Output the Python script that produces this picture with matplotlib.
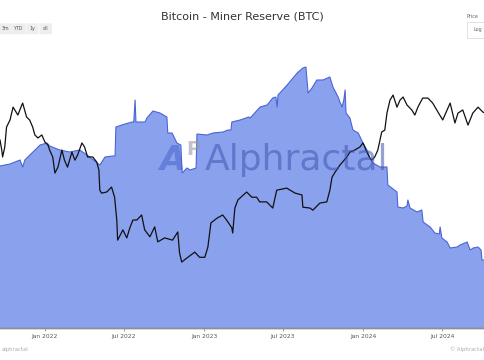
import matplotlib
matplotlib.use("Agg")
import matplotlib.pyplot as plt
import pandas as pd
from matplotlib.patches import FancyBboxPatch

# Miner reserve (thousand BTC)
reserve_dates = [
    "2021-09-20", "2021-10-13", "2021-11-05", "2021-11-11", "2021-11-16", "2021-12-21",
    "2022-01-06", "2022-01-12", "2022-02-04", "2022-02-27", "2022-03-22", "2022-04-14",
    "2022-05-07", "2022-05-19", "2022-06-06", "2022-06-11", "2022-06-13", "2022-07-04",
    "2022-07-20", "2022-07-24", "2022-07-27", "2022-07-29", "2022-08-19", "2022-08-23",
    "2022-09-06", "2022-09-22", "2022-10-08", "2022-10-10", "2022-10-20", "2022-10-31",
    "2022-11-09", "2022-11-12", "2022-11-23", "2022-11-30", "2022-12-14", "2022-12-16",
    "2023-01-08", "2023-01-22", "2023-02-14", "2023-02-25", "2023-03-04", "2023-03-06",
    "2023-03-25", "2023-04-14", "2023-04-17", "2023-05-10", "2023-05-26", "2023-06-08",
    "2023-06-15", "2023-06-18", "2023-06-20", "2023-07-11", "2023-08-03", "2023-08-16",
    "2023-08-23", "2023-08-28", "2023-09-06", "2023-09-17", "2023-10-01", "2023-10-17",
    "2023-10-24", "2023-11-05", "2023-11-09", "2023-11-14", "2023-11-18", "2023-11-21",
    "2023-11-23", "2023-12-02", "2023-12-09", "2023-12-21", "2024-01-01", "2024-01-10",
    "2024-01-17", "2024-01-24", "2024-02-09", "2024-02-25", "2024-02-27", "2024-03-19",
    "2024-03-21", "2024-04-02", "2024-04-11", "2024-04-13", "2024-04-18", "2024-05-04",
    "2024-05-15", "2024-05-18", "2024-06-03", "2024-06-14", "2024-06-24", "2024-06-26",
    "2024-06-30", "2024-07-12", "2024-07-19", "2024-08-04", "2024-08-11", "2024-08-27",
    "2024-09-03", "2024-09-10", "2024-09-21", "2024-09-28", "2024-09-30", "2024-10-07",
]
reserve_values = [
    1881, 1882, 1884, 1880.5, 1884, 1891.5,
    1892.5, 1891, 1889, 1888, 1889, 1885.5,
    1881.5, 1885.5, 1886, 1886, 1900.5, 1902,
    1903, 1903, 1914, 1903, 1903, 1905,
    1908.5, 1907.5, 1905.5, 1897.5, 1897.5, 1892.5,
    1891.5, 1877.5, 1880, 1879, 1880, 1897,
    1896.5, 1897.5, 1898, 1899, 1899, 1903,
    1904, 1905.5, 1905, 1910.5, 1911.5, 1915,
    1915.5, 1910.5, 1916.5, 1921.5, 1927.5, 1930,
    1930.5, 1917.5, 1920, 1924, 1924, 1925.5,
    1920.5, 1915.5, 1913, 1910.5, 1914, 1919,
    1907.5, 1905, 1899, 1897.5, 1892.5, 1889,
    1885, 1882.5, 1880.5, 1880.5, 1871.5, 1868,
    1860.5, 1860, 1861, 1864, 1860, 1858,
    1859, 1853, 1850.5, 1847.5, 1847, 1850.5,
    1845, 1843, 1840, 1840.5, 1841.5, 1843,
    1839, 1840, 1840.5, 1839, 1834, 1834,
]

# BTC price (thousand USD, log scale)
price_dates = [
    "2021-09-20", "2021-09-24", "2021-09-26", "2021-10-01", "2021-10-05", "2021-10-13",
    "2021-10-20", "2021-10-24", "2021-10-31", "2021-11-09", "2021-11-11", "2021-11-20",
    "2021-11-27", "2021-12-04", "2021-12-09", "2021-12-16", "2021-12-25", "2022-01-01",
    "2022-01-08", "2022-01-12", "2022-01-19", "2022-01-24", "2022-01-31", "2022-02-09",
    "2022-02-15", "2022-02-22", "2022-03-04", "2022-03-11", "2022-03-17", "2022-03-27",
    "2022-04-02", "2022-04-09", "2022-04-21", "2022-04-30", "2022-05-05", "2022-05-07",
    "2022-05-11", "2022-05-23", "2022-06-03", "2022-06-10", "2022-06-15", "2022-06-17",
    "2022-06-29", "2022-07-08", "2022-07-15", "2022-07-22", "2022-07-31", "2022-08-11",
    "2022-08-18", "2022-08-30", "2022-09-10", "2022-09-17", "2022-10-03", "2022-10-21",
    "2022-11-02", "2022-11-06", "2022-11-11", "2022-11-23", "2022-12-11", "2022-12-22",
    "2023-01-03", "2023-01-10", "2023-01-17", "2023-01-31", "2023-02-13", "2023-02-22",
    "2023-03-06", "2023-03-08", "2023-03-13", "2023-03-20", "2023-04-09", "2023-04-21",
    "2023-05-02", "2023-05-09", "2023-05-25", "2023-06-08", "2023-06-17", "2023-07-10",
    "2023-07-29", "2023-08-14", "2023-08-16", "2023-09-01", "2023-09-08", "2023-09-24",
    "2023-10-10", "2023-10-17", "2023-10-22", "2023-10-29", "2023-11-09", "2023-11-25",
    "2023-12-02", "2023-12-13", "2023-12-25", "2024-01-01", "2024-01-10", "2024-01-17",
    "2024-01-21", "2024-01-28", "2024-02-04", "2024-02-13", "2024-02-20", "2024-02-25",
    "2024-03-03", "2024-03-10", "2024-03-19", "2024-03-26", "2024-04-02", "2024-04-11",
    "2024-04-22", "2024-04-29", "2024-05-06", "2024-05-17", "2024-05-29", "2024-06-09",
    "2024-06-21", "2024-07-02", "2024-07-12", "2024-07-19", "2024-07-30", "2024-08-06",
    "2024-08-17", "2024-08-29", "2024-09-09", "2024-09-21", "2024-10-02", "2024-10-07",
]
price_values = [
    48.2, 43.9, 41.2, 45.2, 54.3, 58.0,
    65.3, 63.6, 60.7, 66.6, 67.8, 59.6,
    58.0, 54.3, 50.5, 49.1, 50.5, 47.3,
    46.0, 43.9, 41.2, 35.5, 37.5, 43.9,
    40.0, 37.5, 43.1, 40.0, 41.9, 46.9,
    45.2, 41.2, 41.2, 39.3, 36.5, 30.3,
    29.5, 29.8, 31.2, 28.4, 23.0, 19.1,
    21.0, 19.5, 21.4, 23.0, 23.0, 24.1,
    21.0, 19.7, 21.6, 18.8, 19.5, 19.1,
    20.6, 17.0, 15.6, 16.2, 17.1, 16.3,
    16.3, 17.9, 22.4, 23.4, 24.1, 23.0,
    21.4, 20.4, 25.7, 27.7, 29.8, 28.4,
    28.4, 27.2, 27.2, 25.7, 30.3, 30.9,
    29.5, 29.0, 25.9, 25.7, 25.2, 26.9,
    27.2, 30.3, 34.2, 35.8, 38.2, 41.2,
    43.1, 43.9, 45.2, 46.9, 43.1, 40.8,
    40.0, 41.2, 43.9, 51.9, 52.8, 61.8,
    69.7, 73.0, 65.3, 69.7, 71.7, 66.6,
    63.6, 60.7, 65.3, 71.0, 71.0, 67.8,
    62.4, 58.0, 63.6, 67.8, 56.4, 61.8,
    63.6, 55.3, 61.8, 65.3, 62.4, 61.8,
]

tick_dates = ["2022-01-01", "2022-07-01", "2023-01-01", "2023-07-01", "2024-01-01", "2024-07-01"]
tick_labels = ["Jan 2022", "Jul 2022", "Jan 2023", "Jul 2023", "Jan 2024", "Jul 2024"]
range_buttons = ["3m", "YTD", "1y", "all"]

rd = pd.to_datetime(reserve_dates)
pdt = pd.to_datetime(price_dates)

fig = plt.figure(figsize=(4.85, 3.6), dpi=100)
fig.patch.set_facecolor("white")
ax = fig.add_axes([0, 32 / 360, 1, 298 / 360])
ax.fill_between(rd, reserve_values, 1700, color="#8aa1ee", linewidth=0, zorder=1)
ax.plot(rd, reserve_values, color="#4b64d6", lw=0.8, zorder=2)
ax.set_ylim(1800, 1949)
ax.set_xlim(pd.Timestamp("2021-09-20"), pd.Timestamp("2024-10-07"))

ax2 = ax.twinx()
ax2.plot(pdt, price_values, color="#111111", lw=0.9, zorder=3)
ax2.set_yscale("log")
ax2.set_ylim(8.48, 133.2)

for a in (ax, ax2):
    a.set_yticks([])
    a.minorticks_off()
    for s in ("left", "right", "top"):
        a.spines[s].set_visible(False)
    a.spines["bottom"].set_color("#8a8f99")
    a.spines["bottom"].set_linewidth(1.0)
ax2.yaxis.set_minor_locator(matplotlib.ticker.NullLocator())

ax.set_xticks(pd.to_datetime(tick_dates))
ax.set_xticklabels(tick_labels, fontsize=4.3, color="#555555")
ax.tick_params(axis="x", length=2.5, width=0.6, color="#8a8f99", pad=2)

# watermark
fig.text(0.423, 0.555, "Alphractal", fontsize=26, color="#3f56b0", alpha=0.55,
         ha="left", va="center", family="DejaVu Sans", zorder=5)
fig.text(0.355, 0.555, "A", fontsize=24, color="#4a63c9", alpha=0.55, weight="bold",
         ha="center", va="center", family="DejaVu Sans", style="italic")
fig.text(0.399, 0.585, "P", fontsize=14, color="#9a9aa8", alpha=0.6, weight="bold",
         ha="center", va="center", family="DejaVu Sans")

fig.text(0.5, 0.953, "Bitcoin - Miner Reserve (BTC)", fontsize=8, color="#333333",
         ha="center", va="center", family="DejaVu Sans")

# range buttons
xs = [0.001, 0.026, 0.057, 0.083]
ws = [0.021, 0.026, 0.02, 0.022]
for lab, x0, w in zip(range_buttons, xs, ws):
    fig.patches.append(FancyBboxPatch((x0, 0.907), w, 0.026, boxstyle="round,pad=0.002",
                                      transform=fig.transFigure, facecolor="#eeeeee",
                                      edgecolor="none"))
    fig.text(x0 + w / 2, 0.92, lab, fontsize=3.4, color="#555555", ha="center", va="center")

fig.text(0.975, 0.953, "Price", fontsize=3.5, color="#666666", ha="center", va="center")
fig.patches.append(FancyBboxPatch((0.962, 0.895), 0.05, 0.045, boxstyle="square,pad=0",
                                  transform=fig.transFigure, facecolor="white",
                                  edgecolor="#dddddd", linewidth=0.6))
fig.text(0.985, 0.918, "Log", fontsize=3.5, color="#666666", ha="center", va="center")

fig.text(0.003, 0.03, "alphractal", fontsize=3.8, color="#aaaaaa", ha="left", va="center")
fig.text(0.997, 0.03, "© Alphractal", fontsize=3.8, color="#aaaaaa", ha="right", va="center")

fig.savefig("out.png", dpi=100)
